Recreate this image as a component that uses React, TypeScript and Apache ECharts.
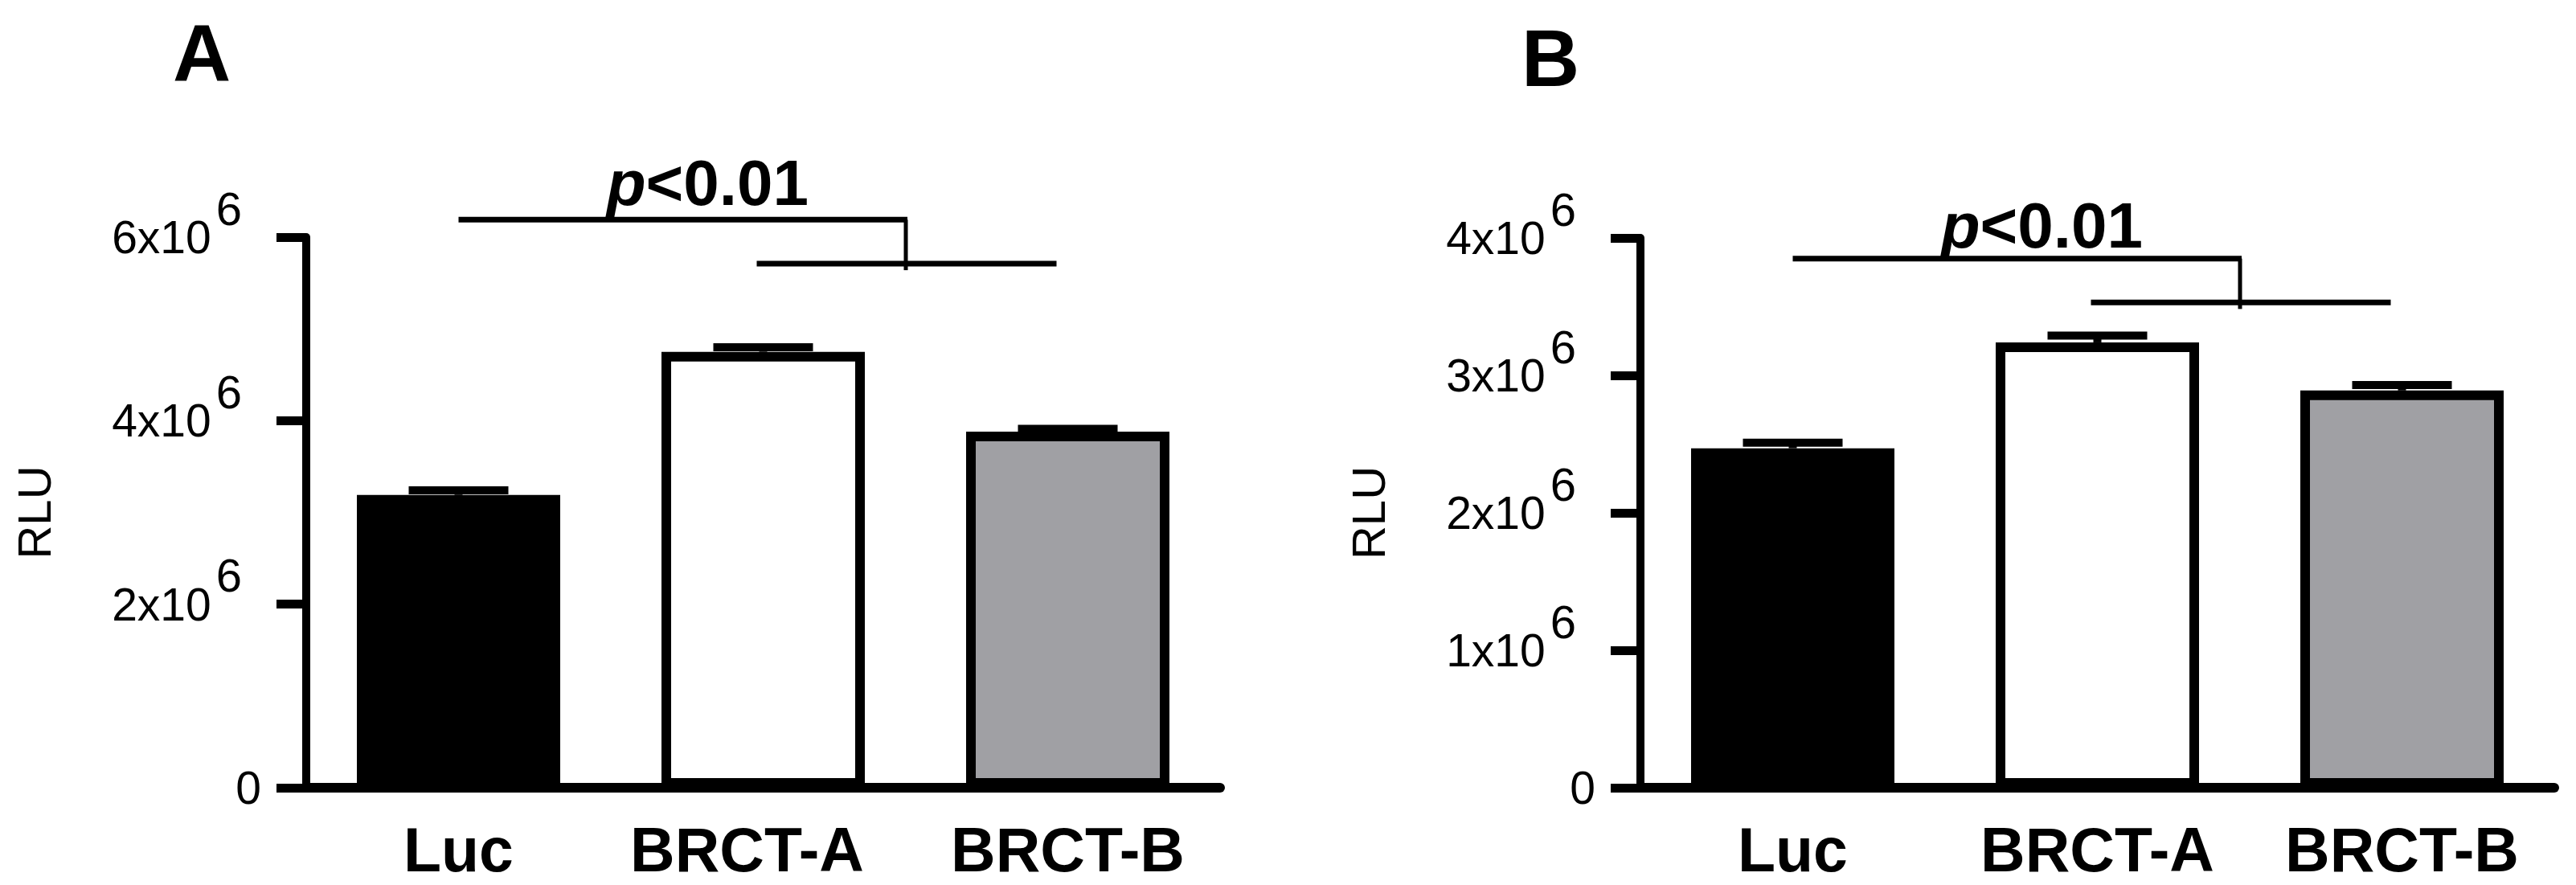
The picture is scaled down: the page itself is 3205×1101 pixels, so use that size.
import React, { useEffect, useRef } from "react";
import * as echarts from "echarts";

// ---------------- data ----------------
const categories = ["Luc", "BRCT-A", "BRCT-B"];
const barColors = ["#000000", "#ffffff", "#a0a0a4"];

const meansA = [3.19e6, 4.75e6, 3.88e6];
const semA = [0.05e6, 0.05e6, 0.03e6];
const meansB = [2.47e6, 3.24e6, 2.89e6];
const semB = [0.04e6, 0.05e6, 0.04e6];

const yMaxA = 6e6;
const yStepA = 2e6;
const yMaxB = 4e6;
const yStepB = 1e6;

const panelLabels = ["A", "B"];
const axisTitle = "RLU";
const pValueText = ["p", "<0.01"];
// significance bracket levels (RLU): [upper line, lower line, text centre]
const sigLevelsA = [6.19e6, 5.71e6, 6.59e6];
const sigLevelsB = [3.85e6, 3.53e6, 4.09e6];

// ---------------- styles ----------------
const FONT = "'Liberation Sans', Arial, Helvetica, sans-serif";

function tickFormatter(v: number) {
  if (v === 0) return "{b|0}";
  const m = Math.round(v / 1e6);
  return "{b|" + m + "x10}{s|6}";
}

function errorSeries(idx: number, means: number[], sems: number[]) {
  return {
    type: "custom",
    xAxisIndex: idx,
    yAxisIndex: idx,
    z: 5,
    clip: false,
    silent: true,
    data: means.map((m, i) => [i, m, sems[i]]),
    renderItem: (params: any, api: any) => {
      const i = api.value(0);
      const m = api.value(1);
      const s = api.value(2);
      const p0 = api.coord([i, m]);
      const p1 = api.coord([i, m + s]);
      return {
        type: "group",
        children: [
          {
            type: "line",
            shape: { x1: p0[0], y1: p0[1], x2: p1[0], y2: p1[1] },
            style: { stroke: "#000", lineWidth: 10 },
          },
          {
            type: "line",
            shape: { x1: p1[0] - 62, y1: p1[1], x2: p1[0] + 62, y2: p1[1] },
            style: { stroke: "#000", lineWidth: 10 },
          },
        ],
      };
    },
  };
}

function sigSeries(idx: number, levels: number[]) {
  return {
    type: "custom",
    xAxisIndex: idx,
    yAxisIndex: idx,
    z: 6,
    clip: false,
    silent: true,
    data: [levels],
    renderItem: (params: any, api: any) => {
      const upper = api.value(0);
      const lower = api.value(1);
      const textLevel = api.value(2);
      const xLuc = api.coord([0, 0])[0];
      const xA = api.coord([1, 0])[0];
      const xB = api.coord([2, 0])[0];
      const mid = (xA + xB) / 2;
      const xV = mid - 12;
      const yU = api.coord([0, upper])[1];
      const yL = api.coord([0, lower])[1];
      const yT = api.coord([0, textLevel])[1];
      const tx = xLuc + 0.545 * (mid - xLuc);
      return {
        type: "group",
        children: [
          {
            type: "line",
            shape: { x1: xLuc, y1: yU, x2: xV + 2, y2: yU },
            style: { stroke: "#000", lineWidth: 7 },
          },
          {
            type: "line",
            shape: { x1: xV, y1: yU, x2: xV, y2: yL + 8 },
            style: { stroke: "#000", lineWidth: 5 },
          },
          {
            type: "line",
            shape: { x1: xA - 8, y1: yL, x2: xB - 14, y2: yL },
            style: { stroke: "#000", lineWidth: 7 },
          },
          {
            type: "text",
            x: tx,
            y: yT,
            style: {
              text: "{i|" + pValueText[0] + "}{r|" + pValueText[1] + "}",
              rich: {
                i: { fontStyle: "italic", fontWeight: "bold", fontSize: 80, fontFamily: FONT, fill: "#000" },
                r: { fontWeight: "bold", fontSize: 80, fontFamily: FONT, fill: "#000" },
              },
              fill: "#000",
              align: "center",
              verticalAlign: "middle",
              textAlign: "center",
              textVerticalAlign: "middle",
            },
          },
        ],
      };
    },
  };
}

function barSeries(idx: number, means: number[]) {
  return {
    type: "bar",
    xAxisIndex: idx,
    yAxisIndex: idx,
    barWidth: 253,
    z: 2,
    silent: true,
    data: means.map((v, i) => ({
      value: v,
      itemStyle: { color: barColors[i], borderColor: "#000", borderWidth: 12 },
    })),
  };
}

function xAxisOpt(idx: number) {
  return {
    type: "category",
    gridIndex: idx,
    data: categories,
    boundaryGap: true,
    axisLine: { show: true, lineStyle: { color: "#000", width: 12 } },
    axisTick: { show: false },
    axisLabel: {
      color: "#000",
      fontFamily: FONT,
      fontWeight: "bold",
      fontSize: 77,
      margin: 38,
      interval: 0,
      formatter: (v: string) => (idx === 0 && v === categories[1] ? "{l|" + v + "}" : v),
      rich: {
        l: { fontFamily: FONT, fontWeight: "bold", fontSize: 77, color: "#000", padding: [0, 40, 0, 0] },
      },
    },
    splitLine: { show: false },
  };
}

function yAxisOpt(idx: number, max: number, step: number) {
  return {
    type: "value",
    gridIndex: idx,
    min: 0,
    max: max,
    interval: step,
    name: axisTitle,
    nameLocation: "middle",
    nameRotate: 90,
    nameGap: 310,
    nameTextStyle: { color: "#000", fontFamily: FONT, fontSize: 58 },
    axisLine: { show: true, lineStyle: { color: "#000", width: 10 } },
    axisTick: { show: true, length: 37, lineStyle: { color: "#000", width: 11 } },
    splitLine: { show: false },
    axisLabel: {
      color: "#000",
      margin: 56,
      formatter: tickFormatter,
      rich: {
        b: { fontFamily: FONT, fontSize: 57, color: "#000" },
        s: { fontFamily: FONT, fontSize: 58, color: "#000", padding: [0, 24, 72, 6] },
      },
    },
  };
}

export default function App() {
  const ref = useRef<HTMLDivElement>(null);

  useEffect(() => {
    if (!ref.current) return;
    const chart = echarts.init(ref.current, null, { renderer: "svg" });
    const option: any = {
      animation: false,
      backgroundColor: "#ffffff",
      grid: [
        { left: 381, top: 295, width: 1137, height: 685 },
        { left: 2041, top: 296, width: 1137, height: 684 },
      ],
      xAxis: [xAxisOpt(0), xAxisOpt(1)],
      yAxis: [yAxisOpt(0, yMaxA, yStepA), yAxisOpt(1, yMaxB, yStepB)],
      graphic: [
        {
          type: "text",
          x: 251,
          y: 66,
          style: {
            text: panelLabels[0],
            font: "bold 100px " + FONT,
            fill: "#000",
            textAlign: "center",
            textVerticalAlign: "middle",
            align: "center",
            verticalAlign: "middle",
          },
        },
        {
          type: "text",
          x: 1929,
          y: 72,
          style: {
            text: panelLabels[1],
            font: "bold 100px " + FONT,
            fill: "#000",
            textAlign: "center",
            textVerticalAlign: "middle",
            align: "center",
            verticalAlign: "middle",
          },
        },
      ],
      series: [
        barSeries(0, meansA),
        errorSeries(0, meansA, semA),
        sigSeries(0, sigLevelsA),
        barSeries(1, meansB),
        errorSeries(1, meansB, semB),
        sigSeries(1, sigLevelsB),
      ],
    };
    chart.setOption(option);
    return () => {
      chart.dispose();
    };
  }, []);

  return (
    <div
      ref={ref}
      style={{ position: "absolute", left: 0, top: 0, width: 3205, height: 1101, background: "#fff" }}
    />
  );
}
